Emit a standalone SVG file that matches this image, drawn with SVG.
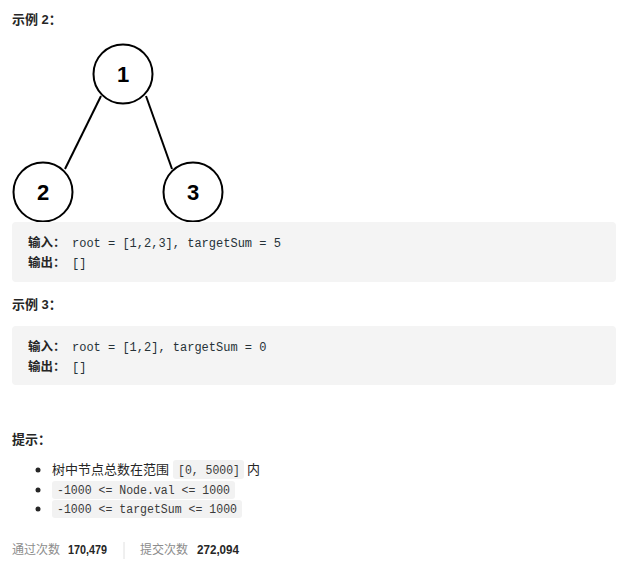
<svg xmlns="http://www.w3.org/2000/svg" width="627" height="576" viewBox="0 0 627 576">
<style>
.h{font-family:"Liberation Sans","Noto Sans CJK SC",sans-serif;font-size:13px;font-weight:bold;fill:#262626}
.lbl{font-family:"Noto Sans CJK SC",sans-serif;font-size:12.5px;font-weight:bold;fill:#262626}
.code{font-family:"Liberation Mono","Noto Sans CJK SC",monospace;font-size:12px;fill:#263238}
.pre{fill:#f4f4f4}
.ic{fill:#f2f2f2}
.icode{font-family:"Liberation Mono",monospace;font-size:12.5px;fill:#3a3a3a}
.txt{font-family:"Noto Sans CJK SC",sans-serif;font-size:13px;fill:#262626}
.node circle{fill:#fff;stroke:#000;stroke-width:2}
.node text{font-family:"Liberation Sans",Arial,sans-serif;font-size:22px;font-weight:bold;fill:#000;text-anchor:middle}
.edge{stroke:#000;stroke-width:2}
.gray{font-family:"Noto Sans CJK SC",sans-serif;font-size:12px;fill:#8c8c8c}
.num{font-family:"Liberation Sans",sans-serif;font-size:12.5px;font-weight:bold;fill:#262626}
</style>
<rect width="627" height="576" fill="#fff"/>
<text class="h" x="12" y="24">示例 2：</text>
<g id="edges">
<line class="edge" x1="101" y1="96" x2="65" y2="169"/>
<line class="edge" x1="146" y1="96" x2="172" y2="169"/>
</g>
<g id="n1" class="node"><circle cx="123" cy="74" r="29.5"/><text x="123" y="82">1</text></g>
<g id="n2" class="node"><circle cx="43" cy="192" r="29.5"/><text x="43" y="200">2</text></g>
<g id="n3" class="node"><circle cx="193" cy="192" r="29.5"/><text x="193" y="200">3</text></g>
<g id="ex2">
<rect class="pre" x="12" y="222" width="604" height="60" rx="4"/>
<text class="lbl" x="28" y="247">输入：</text>
<text class="code" x="72" y="247">root = [1,2,3], targetSum = 5</text>
<text class="lbl" x="28" y="267">输出：</text>
<text class="code" x="72" y="267">[]</text>
</g>
<text class="h" x="12" y="309">示例 3：</text>
<g id="ex3">
<rect class="pre" x="12" y="326" width="604" height="59" rx="4"/>
<text class="lbl" x="28" y="351">输入：</text>
<text class="code" x="72" y="351">root = [1,2], targetSum = 0</text>
<text class="lbl" x="28" y="371">输出：</text>
<text class="code" x="72" y="371">[]</text>
</g>
<text class="h" x="12" y="444">提示：</text>
<g id="hints">
<circle cx="38" cy="470" r="2.5" fill="#262626"/>
<text class="txt" x="52" y="474">树中节点总数在范围</text>
<rect class="ic" x="173" y="460" width="71" height="19" rx="3"/>
<text class="icode" x="178" y="474" textLength="62" lengthAdjust="spacingAndGlyphs">[0, 5000]</text>
<text class="txt" x="247" y="474">内</text>
<circle cx="38" cy="490" r="2.5" fill="#262626"/>
<rect class="ic" x="52" y="481" width="183" height="18" rx="3"/>
<text class="icode" x="57" y="494" textLength="173" lengthAdjust="spacingAndGlyphs">-1000 &lt;= Node.val &lt;= 1000</text>
<circle cx="38" cy="509" r="2.5" fill="#262626"/>
<rect class="ic" x="52" y="500" width="190" height="18" rx="3"/>
<text class="icode" x="57" y="513" textLength="180" lengthAdjust="spacingAndGlyphs">-1000 &lt;= targetSum &lt;= 1000</text>
</g>
<g id="stats">
<text class="gray" x="12" y="554">通过次数</text>
<text class="num" x="68" y="554" textLength="39" lengthAdjust="spacingAndGlyphs">170,479</text>
<line x1="124" y1="542" x2="124" y2="559" stroke="#e0e0e0" stroke-width="1"/>
<text class="gray" x="140" y="554">提交次数</text>
<text class="num" x="197" y="554" textLength="42" lengthAdjust="spacingAndGlyphs">272,094</text>
</g>
</svg>
